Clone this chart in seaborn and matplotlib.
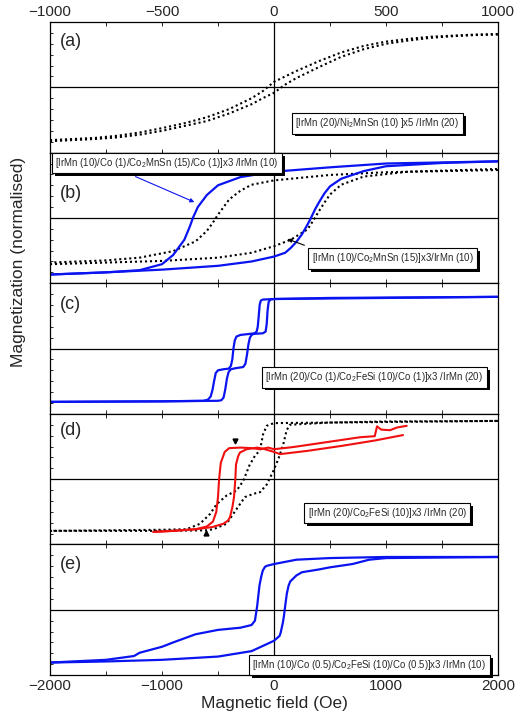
import numpy as np
import pandas as pd
import matplotlib
matplotlib.use("Agg")
import matplotlib.pyplot as plt
import matplotlib.ticker as ticker
import matplotlib.patheffects as pe
import seaborn as sns

# ---------------- data ----------------
# panel (a): field in Oe on the top scale (-1000..1000)
a_dn_x = [-1000, -900, -800, -700, -600, -500, -400, -300, -200, -100, -50, 0, 50, 100, 150, 200, 300, 400, 500, 600, 700, 800, 900, 1000]
a_dn_y = [-0.97, -0.95, -0.93, -0.89, -0.83, -0.75, -0.66, -0.55, -0.40, -0.20, -0.07, 0.10, 0.20, 0.30, 0.39, 0.48, 0.64, 0.76, 0.84, 0.89, 0.93, 0.95, 0.97, 0.98]
a_up_x = a_dn_x
a_up_y = [-0.99, -0.97, -0.95, -0.92, -0.87, -0.80, -0.71, -0.62, -0.48, -0.31, -0.20, -0.10, 0.05, 0.17, 0.27, 0.37, 0.56, 0.70, 0.80, 0.86, 0.91, 0.94, 0.96, 0.97]

# panel (b)
b_blue_dn_x = [2000, 1500, 1000, 500, 0, -300, -500, -600, -680, -720, -750, -800, -900, -1000, -1200, -1500, -2000]
b_blue_dn_y = [1.04, 1.02, 1.00, 0.93, 0.85, 0.75, 0.60, 0.42, 0.20, 0.02, -0.15, -0.40, -0.68, -0.85, -0.96, -1.00, -1.04]
b_blue_up_x = [-2000, -1500, -1000, -500, -200, 0, 100, 150, 200, 250, 300, 330, 370, 400, 450, 500, 600, 800, 1000, 1500, 2000]
b_blue_up_y = [-1.04, -1.00, -0.95, -0.88, -0.80, -0.71, -0.64, -0.55, -0.44, -0.30, -0.12, 0.00, 0.17, 0.28, 0.45, 0.58, 0.72, 0.86, 0.95, 1.01, 1.04]
b_dot_dn_x = [2000, 1000, 500, 0, -200, -300, -400, -450, -500, -550, -600, -700, -900, -1200, -1500, -2000]
b_dot_dn_y = [0.88, 0.84, 0.79, 0.69, 0.61, 0.50, 0.34, 0.20, 0.06, -0.10, -0.24, -0.43, -0.61, -0.73, -0.78, -0.82]
b_dot_up_x = [-2000, -1500, -1000, -500, -200, 0, 150, 300, 350, 400, 450, 500, 600, 800, 1200, 2000]
b_dot_up_y = [-0.85, -0.82, -0.79, -0.73, -0.64, -0.52, -0.40, -0.21, -0.05, 0.12, 0.28, 0.43, 0.61, 0.76, 0.85, 0.90]

# panel (c)
c_dn_x = [2000, 1000, 0, -100, -118, -128, -136, -145, -155, -175, -214, -300, -335, -350, -362, -372, -385, -405, -450, -500, -520, -535, -548, -565, -590, -630, -1000, -2000]
c_dn_y = [0.95, 0.93, 0.91, 0.90, 0.88, 0.80, 0.60, 0.40, 0.31, 0.28, 0.27, 0.25, 0.22, 0.15, 0.00, -0.20, -0.32, -0.37, -0.38, -0.40, -0.45, -0.60, -0.75, -0.88, -0.94, -0.96, -0.97, -0.98]
c_up_x = [-2000, -1000, -500, -470, -450, -435, -420, -405, -385, -340, -275, -255, -240, -228, -215, -200, -180, -100, -75, -65, -57, -48, -35, 0, 500, 2000]
c_up_y = [-0.98, -0.97, -0.96, -0.95, -0.90, -0.75, -0.55, -0.43, -0.38, -0.36, -0.34, -0.28, -0.10, 0.08, 0.20, 0.25, 0.27, 0.28, 0.31, 0.45, 0.70, 0.85, 0.90, 0.91, 0.93, 0.95]

# panel (d)
d_dot_dn_x = [2000, 1000, 0, -65, -98, -125, -170, -220, -274, -333, -423, -512, -571, -661, -780, -1000, -1500, -2000]
d_dot_dn_y = [1.07, 1.05, 1.03, 0.98, 0.82, 0.53, 0.43, 0.25, -0.03, -0.21, -0.30, -0.46, -0.64, -0.82, -0.92, -0.93, -0.94, -0.95]
d_dot_up_x = [-2000, -1000, -600, -542, -423, -364, -304, -259, -185, -125, -65, -6, 39, 83, 113, 143, 500, 1000, 2000]
d_dot_up_y = [-0.95, -0.95, -0.94, -0.92, -0.82, -0.64, -0.46, -0.33, -0.27, -0.24, -0.10, 0.15, 0.37, 0.64, 0.90, 1.00, 1.04, 1.06, 1.07]
d_red_dn_x = [1185, 1100, 1036, 958, 920, 900, 768, 470, 172, 0, -50, -125, -200, -300, -400, -440, -475, -490, -500, -515, -545, -600, -700, -900, -1077]
d_red_dn_y = [0.98, 0.95, 0.90, 0.91, 0.97, 0.79, 0.77, 0.68, 0.59, 0.55, 0.58, 0.55, 0.57, 0.58, 0.57, 0.50, 0.30, 0.00, -0.33, -0.60, -0.78, -0.87, -0.92, -0.95, -0.97]
d_red_up_x = [-1077, -900, -700, -550, -452, -410, -393, -370, -357, -345, -339, -320, -304, -244, -150, -98, 0, 54, 300, 600, 900, 1152]
d_red_up_y = [-0.97, -0.95, -0.92, -0.88, -0.82, -0.76, -0.70, -0.50, -0.33, 0.00, 0.27, 0.42, 0.49, 0.55, 0.58, 0.56, 0.50, 0.46, 0.52, 0.61, 0.71, 0.81]

# panel (e)
e_dn_x = [2000, 1000, 500, 200, 0, -60, -80, -100, -115, -130, -150, -170, -200, -300, -500, -700, -900, -1000, -1200, -1250, -1500, -2000]
e_dn_y = [0.97, 0.97, 0.95, 0.92, 0.84, 0.81, 0.79, 0.72, 0.60, 0.44, 0.07, -0.20, -0.28, -0.33, -0.37, -0.45, -0.60, -0.68, -0.79, -0.85, -0.92, -0.97]
e_up_x = [-2000, -1500, -1000, -500, -200, 0, 50, 60, 80, 90, 100, 115, 130, 145, 170, 200, 250, 400, 500, 700, 850, 1000, 2000]
e_up_y = [-0.97, -0.95, -0.92, -0.86, -0.76, -0.57, -0.48, -0.42, -0.23, -0.10, 0.07, 0.30, 0.44, 0.52, 0.57, 0.63, 0.69, 0.74, 0.78, 0.84, 0.92, 0.95, 0.97]

panel_tags = ["(a)", "(b)", "(c)", "(d)", "(e)"]
box_texts = [
    "[IrMn (20)/Ni$_2$MnSn (10) ]x5 /IrMn (20)",
    "[IrMn (10)/Co (1)/Co$_2$MnSn (15)/Co (1)]x3 /IrMn (10)",
    "[IrMn (10)/Co$_2$MnSn (15)]x3/IrMn (10)",
    "[IrMn (20)/Co (1)/Co$_2$FeSi (10)/Co (1)]x3 /IrMn (20)",
    "[IrMn (20)/Co$_2$FeSi (10)]x3 /IrMn (20)",
    "[IrMn (10)/Co (0.5)/Co$_2$FeSi (10)/Co (0.5)]x3 /IrMn (10)",
]
bottom_ticks = [-2000, -1000, 0, 1000, 2000]
top_ticks = [-1000, -500, 0, 500, 1000]

BLUE = "#0a14f0"
RED = "#f01010"

sns.set_theme(style="ticks")
plt.rcParams['font.family'] = ['Liberation Sans', 'DejaVu Sans']
plt.rcParams['mathtext.default'] = 'regular'

fig, axes = plt.subplots(5, 1, figsize=(5.32, 7.22), dpi=100)
fig.subplots_adjust(left=0.094, right=0.936, top=0.9695, bottom=0.065, hspace=0)


def draw(ax, xs, ys, color, ls="-", lw=1.5):
    df = pd.DataFrame({"x": xs, "y": ys})
    sns.lineplot(data=df, x="x", y="y", sort=False, estimator=None,
                 color=color, linestyle=ls, linewidth=lw, ax=ax)


def add_box(ax, x, y, s):
    t = ax.text(x, y, s, transform=ax.transAxes, fontsize=6.9, va="center", ha="left",
                bbox=dict(boxstyle="square,pad=0.35", fc="white", ec="black", lw=0.8),
                zorder=10)
    t.get_bbox_patch().set_path_effects([
        pe.SimplePatchShadow(offset=(2, -2), shadow_rgbFace="black", alpha=1.0),
        pe.Normal()])
    return t


DOT = (0, (1, 1.4))

# panel a
draw(axes[0], a_dn_x, a_dn_y, "black", DOT)
draw(axes[0], a_up_x, a_up_y, "black", DOT)
# panel b
draw(axes[1], b_dot_dn_x, b_dot_dn_y, "black", DOT)
draw(axes[1], b_dot_up_x, b_dot_up_y, "black", DOT)
draw(axes[1], b_blue_dn_x, b_blue_dn_y, BLUE, "-", 1.6)
draw(axes[1], b_blue_up_x, b_blue_up_y, BLUE, "-", 1.6)
# panel c
draw(axes[2], c_dn_x, c_dn_y, BLUE, "-", 1.6)
draw(axes[2], c_up_x, c_up_y, BLUE, "-", 1.6)
# panel d
draw(axes[3], d_dot_dn_x, d_dot_dn_y, "black", DOT)
draw(axes[3], d_dot_up_x, d_dot_up_y, "black", DOT)
draw(axes[3], d_red_dn_x, d_red_dn_y, RED, "-", 1.5)
draw(axes[3], d_red_up_x, d_red_up_y, RED, "-", 1.5)
# panel e
draw(axes[4], e_dn_x, e_dn_y, BLUE, "-", 1.6)
draw(axes[4], e_up_x, e_up_y, BLUE, "-", 1.6)

tag_y = [0.85, 0.69, 0.84, 0.87, 0.85]
for i, ax in enumerate(axes):
    ax.set_ylim(-1.2, 1.2)
    ax.axhline(0, color="black", lw=0.9, zorder=1)
    ax.axvline(0, color="black", lw=0.9, zorder=1)
    ax.set_xlabel("")
    ax.set_ylabel("")
    for sp in ax.spines.values():
        sp.set_linewidth(0.9)
        sp.set_color("black")
    ax.yaxis.set_major_locator(ticker.FixedLocator([-1.0, -0.8, -0.6, -0.4, -0.2, 0.2, 0.4, 0.6, 0.8, 1.0]))
    ax.tick_params(axis="y", direction="in", length=2.5, width=0.7, labelleft=False, left=True, right=False)
    ax.text(0.022, tag_y[i], panel_tags[i], transform=ax.transAxes, fontsize=13, va="center", ha="left")
    if i == 0:
        ax.set_xlim(-1000, 1000)
        ax.set_xticks(top_ticks)
        ax.xaxis.set_minor_locator(ticker.MultipleLocator(250))
        ax.tick_params(axis="x", which="both", direction="in", top=True, bottom=True,
                       labeltop=True, labelbottom=False, labelsize=11, length=3, width=0.7, pad=2)
    else:
        ax.set_xlim(-2000, 2000)
        ax.set_xticks(bottom_ticks)
        ax.xaxis.set_minor_locator(ticker.MultipleLocator(500))
        ax.tick_params(axis="x", which="both", direction="in", top=True, bottom=True,
                       labeltop=False, labelbottom=(i == 4), labelsize=11, length=3, width=0.7, pad=3)

axes[4].set_xlabel("Magnetic field (Oe)", fontsize=12.5, labelpad=2)
fig.text(0.035, 0.637, "Magnetization (normalised)", rotation=90, fontsize=12.5, va="center", ha="center")

# boxes
add_box(axes[0], 0.548, 0.225, box_texts[0])
add_box(axes[1], 0.012, 0.92, box_texts[1])
add_box(axes[1], 0.584, 0.19, box_texts[2])
add_box(axes[2], 0.481, 0.28, box_texts[3])
add_box(axes[3], 0.575, 0.24, box_texts[4])
add_box(axes[4], 0.452, 0.076, box_texts[5])

# arrows in (b)
axes[1].annotate("", xy=(-688, 0.27), xytext=(-1259, 0.78),
                 arrowprops=dict(arrowstyle="-|>", color=BLUE, lw=0.8, mutation_scale=6))
axes[1].annotate("", xy=(98, -0.37), xytext=(295, -0.52),
                 arrowprops=dict(arrowstyle="-|>", color="black", lw=0.8, mutation_scale=6))
# little markers in (d)
axes[3].plot([-348], [0.70], marker="v", color="black", ms=3.5, ls="none")
axes[3].plot([-607], [-0.99], marker="^", color="black", ms=3.5, ls="none")

fig.savefig("out.png", dpi=100)
